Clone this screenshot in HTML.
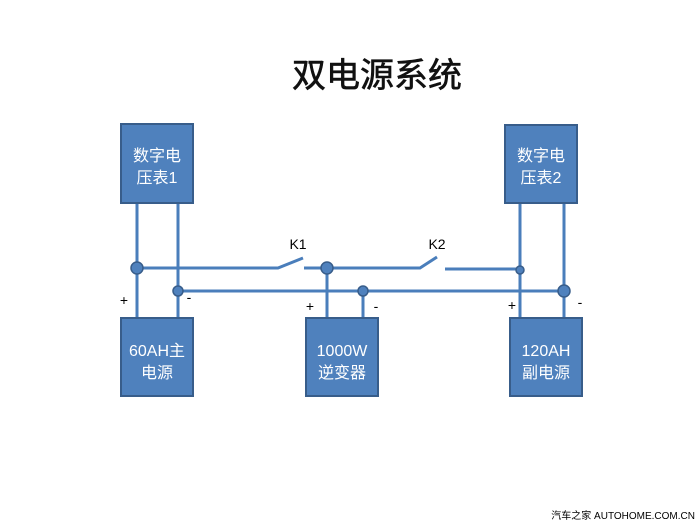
<!DOCTYPE html>
<html><head><meta charset="utf-8"><style>
body{margin:0;background:#fff;}
</style></head><body>
<svg width="700" height="525" xmlns="http://www.w3.org/2000/svg" style="display:block">
<rect width="700" height="525" fill="#fff"/>
<text x="377" y="87" text-anchor="middle" font-family="Liberation Sans, Noto Sans CJK SC, sans-serif" font-size="34" fill="#111" stroke="#111" stroke-width="0.6">双电源系统</text>
<g stroke="#4a7ebb" stroke-width="3" fill="none">
<line x1="137" y1="203" x2="137" y2="318"/>
<line x1="178" y1="203" x2="178" y2="318"/>
<line x1="520" y1="203" x2="520" y2="318"/>
<line x1="564" y1="203" x2="564" y2="318"/>
<line x1="327" y1="268" x2="327" y2="318"/>
<line x1="363" y1="291" x2="363" y2="318"/>
<polyline points="137,268 278,268 303,258"/>
<polyline points="304,268 420,268 437,257"/>
<line x1="445" y1="269" x2="520" y2="269"/>
<line x1="178" y1="291" x2="564" y2="291"/>
</g>
<g fill="#4f81bd" stroke="#385d8a" stroke-width="1.5">
<circle cx="137" cy="268" r="6"/>
<circle cx="327" cy="268" r="6"/>
<circle cx="520" cy="270" r="4"/>
<circle cx="178" cy="291" r="5"/>
<circle cx="363" cy="291" r="5"/>
<circle cx="564" cy="291" r="6"/>
</g>
<g fill="#4f81bd" stroke="#385d8a" stroke-width="2">
<rect x="121" y="124" width="72" height="79"/>
<rect x="121" y="318" width="72" height="78"/>
<rect x="306" y="318" width="72" height="78"/>
<rect x="505" y="125" width="72" height="78"/>
<rect x="510" y="318" width="72" height="78"/>
</g>
<g font-family="Liberation Sans, Noto Sans CJK SC, sans-serif" font-size="16" fill="#fff" text-anchor="middle">
<text x="157" y="161">数字电</text><text x="157" y="183">压表1</text>
<text x="157" y="356">60AH主</text><text x="157" y="378">电源</text>
<text x="342" y="356">1000W</text><text x="342" y="378">逆变器</text>
<text x="541" y="161">数字电</text><text x="541" y="183">压表2</text>
<text x="546" y="356">120AH</text><text x="546" y="378">副电源</text>
</g>
<g font-family="Liberation Sans, sans-serif" font-size="14" fill="#000" text-anchor="middle">
<text x="298" y="249">K1</text>
<text x="437" y="249">K2</text>
<text x="124" y="305">+</text><text x="189" y="302">-</text>
<text x="310" y="311">+</text><text x="376" y="311">-</text>
<text x="512" y="310">+</text><text x="580" y="307">-</text>
</g>
<text x="695" y="519" text-anchor="end" font-family="Liberation Sans, Noto Sans CJK SC, sans-serif" font-size="10" fill="#000">汽车之家  AUTOHOME.COM.CN</text>
</svg>
</body></html>
